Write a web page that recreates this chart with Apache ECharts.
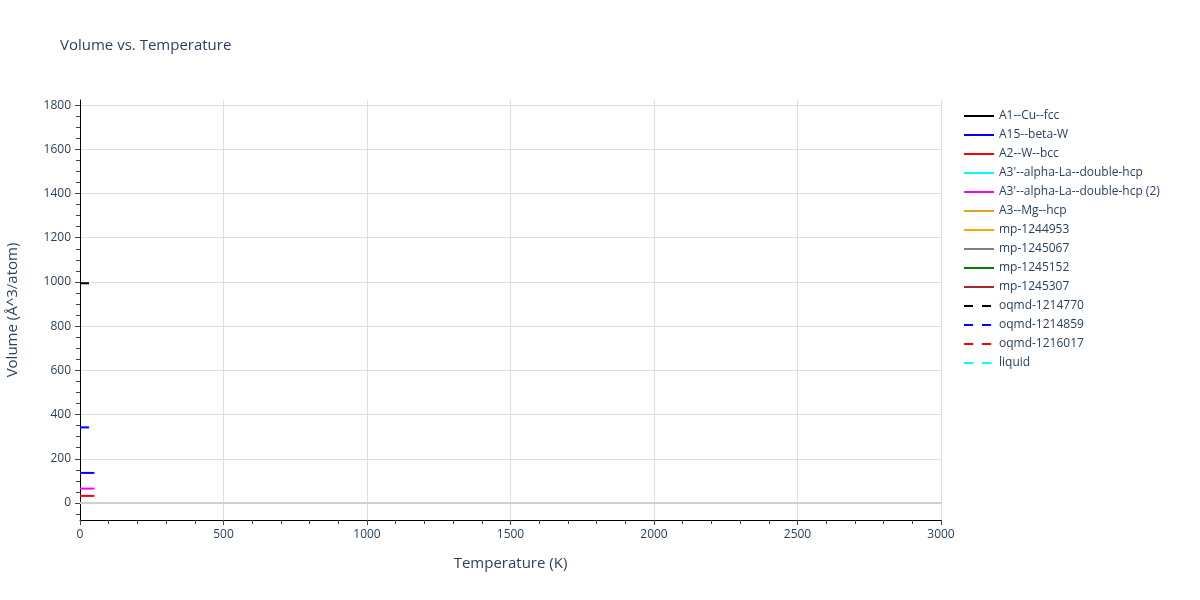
<!DOCTYPE html>
<html>
<head>
<meta charset="utf-8">
<script src="https://cdn.jsdelivr.net/npm/echarts@6/dist/echarts.min.js"></script>
<style>
html,body{margin:0;padding:0;background:#fff;}
#chart{width:1200px;height:600px;}
</style>
</head>
<body>
<div id="chart"></div>
<script>
// ---- data ----
const seriesNames = [
  "A1--Cu--fcc", "A15--beta-W", "A2--W--bcc", "A3'--alpha-La--double-hcp",
  "A3'--alpha-La--double-hcp (2)", "A3--Mg--hcp", "mp-1244953", "mp-1245067",
  "mp-1245152", "mp-1245307", "oqmd-1214770", "oqmd-1214859", "oqmd-1216017", "liquid"
];
const seriesColors = [
  "#000000", "#0000ff", "#ff0000", "#00ffff", "#ff00ff", "#daa520", "#ffa500",
  "#808080", "#008000", "#a52a2a", "#000000", "#0000ff", "#ff0000", "#00ffff"
];
const seriesDashed = [false,false,false,false,false,false,false,false,false,false,true,true,true,true];
// temperatures (K) and volumes (Å^3/atom) per series
const temps = [0, 50];
const volA1 = [];
const volA15 = [136, 136];
const volA2 = [32, 32];
const volA3p = [];
const volA3p2 = [65, 65];
const volA3 = [];
const volMp1244953 = [];
const volMp1245067 = [];
const volMp1245152 = [];
const volMp1245307 = [];
const volOqmd1214770 = [994, 994];
const volOqmd1214859 = [342, 342];
const volOqmd1216017 = [];
const volLiquid = [];
const allVolumes = [volA1, volA15, volA2, volA3p, volA3p2, volA3, volMp1244953, volMp1245067,
  volMp1245152, volMp1245307, volOqmd1214770, volOqmd1214859, volOqmd1216017, volLiquid];

const yMajorTicks = [0, 200, 400, 600, 800, 1000, 1200, 1400, 1600, 1800];
const yMinorTicks = [-50, 50, 100, 150, 250, 300, 350, 450, 500, 550, 650, 700, 750, 850, 900, 950,
  1050, 1100, 1150, 1250, 1300, 1350, 1450, 1500, 1550, 1650, 1700, 1750];
const yMin = -77, yMax = 1823;

const textColor = '#2a3f5f';
const gridColor = '#dedede';

const series = seriesNames.map((name, i) => ({
  name: name,
  type: 'line',
  yAxisIndex: 0,
  showSymbol: false,
  symbol: 'none',
  data: allVolumes[i].map((v, k) => [temps[k], v]),
  lineStyle: {color: seriesColors[i], width: 2, type: seriesDashed[i] ? [9, 9] : 'solid'},
  itemStyle: {color: seriesColors[i]},
  emphasis: {disabled: true},
  animation: false
}));
// zero line (plotly zeroline)
series.unshift({
  name: '_zero',
  type: 'line',
  data: [],
  silent: true,
  markLine: {
    silent: true, symbol: 'none', label: {show: false},
    lineStyle: {color: '#d0d0d0', width: 2, type: 'solid'},
    data: [{yAxis: 0}]
  },
  animation: false
});

const plain = v => String(v);

const chart = echarts.init(document.getElementById('chart'));
chart.setOption({
  backgroundColor: '#fff',
  animation: false,
  textStyle: {fontFamily: 'Open Sans'},
  title: {
    text: 'Volume vs. Temperature',
    left: 55, top: 33,
    textStyle: {fontFamily: 'Open Sans', fontSize: 15, fontWeight: 'normal', color: textColor}
  },
  grid: {left: 80, right: 259, top: 100, bottom: 80, containLabel: false, outerBoundsMode: 'none'},
  legend: {
    data: seriesNames,
    orient: 'vertical',
    left: 958, top: 105,
    itemWidth: 30, itemHeight: 14, itemGap: 7,
    itemStyle: {opacity: 0},
    textStyle: {fontFamily: 'Open Sans', fontSize: 12, color: textColor},
    selectedMode: false
  },
  xAxis: {
    type: 'value',
    min: 0, max: 3000, interval: 500,
    name: 'Temperature (K)',
    nameLocation: 'middle', nameGap: 36,
    nameTextStyle: {fontFamily: 'Open Sans', fontSize: 15, color: textColor},
    axisLine: {show: true, onZero: false, lineStyle: {color: '#000', width: 1}},
    axisTick: {show: true, length: 5, lineStyle: {color: '#444'}},
    minorTick: {show: true, splitNumber: 5, length: 4, lineStyle: {color: '#444'}},
    axisLabel: {fontFamily: 'Open Sans', fontSize: 12, color: textColor, margin: 9, formatter: plain},
    splitLine: {show: true, lineStyle: {color: gridColor, width: 1}}
  },
  yAxis: [{
    type: 'value',
    min: yMin, max: yMax,
    name: 'Volume (Å^3/atom)',
    nameLocation: 'middle', nameGap: 60,
    nameTextStyle: {fontFamily: 'Open Sans', fontSize: 15, color: textColor},
    axisLine: {show: true, onZero: false, lineStyle: {color: '#000', width: 1}},
    axisTick: {show: true, length: 5, customValues: yMajorTicks, lineStyle: {color: '#444'}},
    axisLabel: {fontFamily: 'Open Sans', fontSize: 12, color: textColor, margin: 9, customValues: yMajorTicks, formatter: plain},
    splitLine: {show: true, lineStyle: {color: gridColor, width: 1}}
  }, {
    type: 'value',
    min: yMin, max: yMax,
    position: 'left',
    axisLine: {show: false, onZero: false},
    axisTick: {show: true, length: 4, customValues: yMinorTicks, lineStyle: {color: '#444'}},
    axisLabel: {show: false},
    splitLine: {show: false}
  }],
  series: series
});
</script>
</body>
</html>
